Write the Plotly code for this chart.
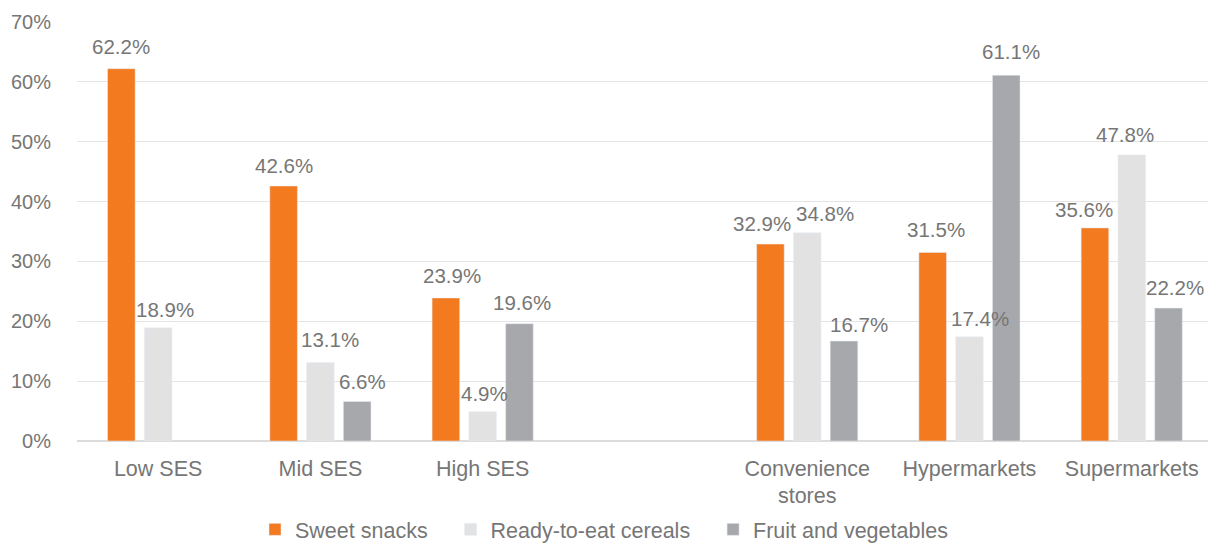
import plotly.graph_objects as go

categories = ["Low SES", "Mid SES", "High SES", " ", "Convenience<br>stores", "Hypermarkets", "Supermarkets"]
sweet_snacks = [62.2, 42.6, 23.9, None, 32.9, 31.5, 35.6]
cereals = [18.9, 13.1, 4.9, None, 34.8, 17.4, 47.8]
fruit_veg = [None, 6.6, 19.6, None, 16.7, 61.1, 22.2]
series_names = ["Sweet snacks", "Ready-to-eat cereals", "Fruit and vegetables"]
colors = ["#F47A20", "#E2E2E2", "#A7A8AB"]
y_ticks = [0, 10, 20, 30, 40, 50, 60, 70]

# small horizontal / vertical nudges (px) of the value labels, as in the reference
label_dx = [[0, 0, 6, 0, -8, 3, -11],
            [7, 10, 2, 0, 18, 11, -7],
            [0, 5, 3, 0, 15, 5, 6]]
label_dy = [[2, 0, 2, 0, 0, 2, -2],
            [-2, 3, -2, 0, -1, -2, 0],
            [0, -1, 1, 0, -4, 3, 0]]

FONT = "Liberation Sans, Arial, sans-serif"
TXT = "#767676"

W, H = 1208, 544
ML, MR, MT, MB = 77, 0, 22, 103
BARGAP = 0.32
XRANGE = [-0.5, 6.47]
slot_px = (W - ML - MR) / (XRANGE[1] - XRANGE[0])
bar_slot_px = slot_px * (1 - BARGAP) / 3

fig = go.Figure()
all_series = [sweet_snacks, cereals, fruit_veg]
for name, vals, col in zip(series_names, all_series, colors):
    fig.add_trace(go.Bar(x=categories, y=vals, name=name, marker_color=col,
                         hoverinfo="x+y"))

for i, vals in enumerate(all_series):
    for j, (cat, v) in enumerate(zip(categories, vals)):
        if v is None:
            continue
        fig.add_annotation(
            x=cat, y=v, xref="x", yref="y", text=f"{v:.1f}%", showarrow=False,
            xanchor="center", yanchor="bottom",
            xshift=(i - 1) * bar_slot_px + label_dx[i][j],
            yshift=7 + label_dy[i][j],
            font=dict(size=20.5, color=TXT, family=FONT),
        )

legend_names = [series_names[0] + "\u00a0\u00a0\u00a0",
                series_names[1] + "\u00a0\u00a0\u00a0",
                series_names[2]]
for tr, ln in zip(fig.data, legend_names):
    tr.name = ln

fig.update_layout(
    width=W, height=H,
    margin=dict(l=ML, r=MR, t=MT, b=MB, autoexpand=False),
    plot_bgcolor="white", paper_bgcolor="white",
    barmode="group", bargap=BARGAP, bargroupgap=0.25,
    font=dict(family=FONT, size=20, color=TXT),
    showlegend=True,
    legend=dict(orientation="h", x=0.5, xref="container", xanchor="center",
                y=-0.162, yanchor="top",
                font=dict(size=21.5, color=TXT), traceorder="normal", itemwidth=30),
)
fig.update_yaxes(range=[0, 70], tickvals=y_ticks, ticktext=[f"{t}%" for t in y_ticks],
                 showgrid=True, gridcolor="#E4E4E4", gridwidth=1.4, zeroline=True,
                 zerolinecolor="#DCDCDC", zerolinewidth=1.6, ticks="", ticklabelstandoff=25,
                 automargin=False, tickfont=dict(size=20, color=TXT))
fig.update_xaxes(type="category", range=XRANGE, showline=False, ticks="", automargin=False,
                 ticklabelstandoff=12, tickfont=dict(size=21.5, color=TXT))

fig.write_html("out.html", config={"displayModeBar": False},
               post_script="document.body.style.margin='0';")
